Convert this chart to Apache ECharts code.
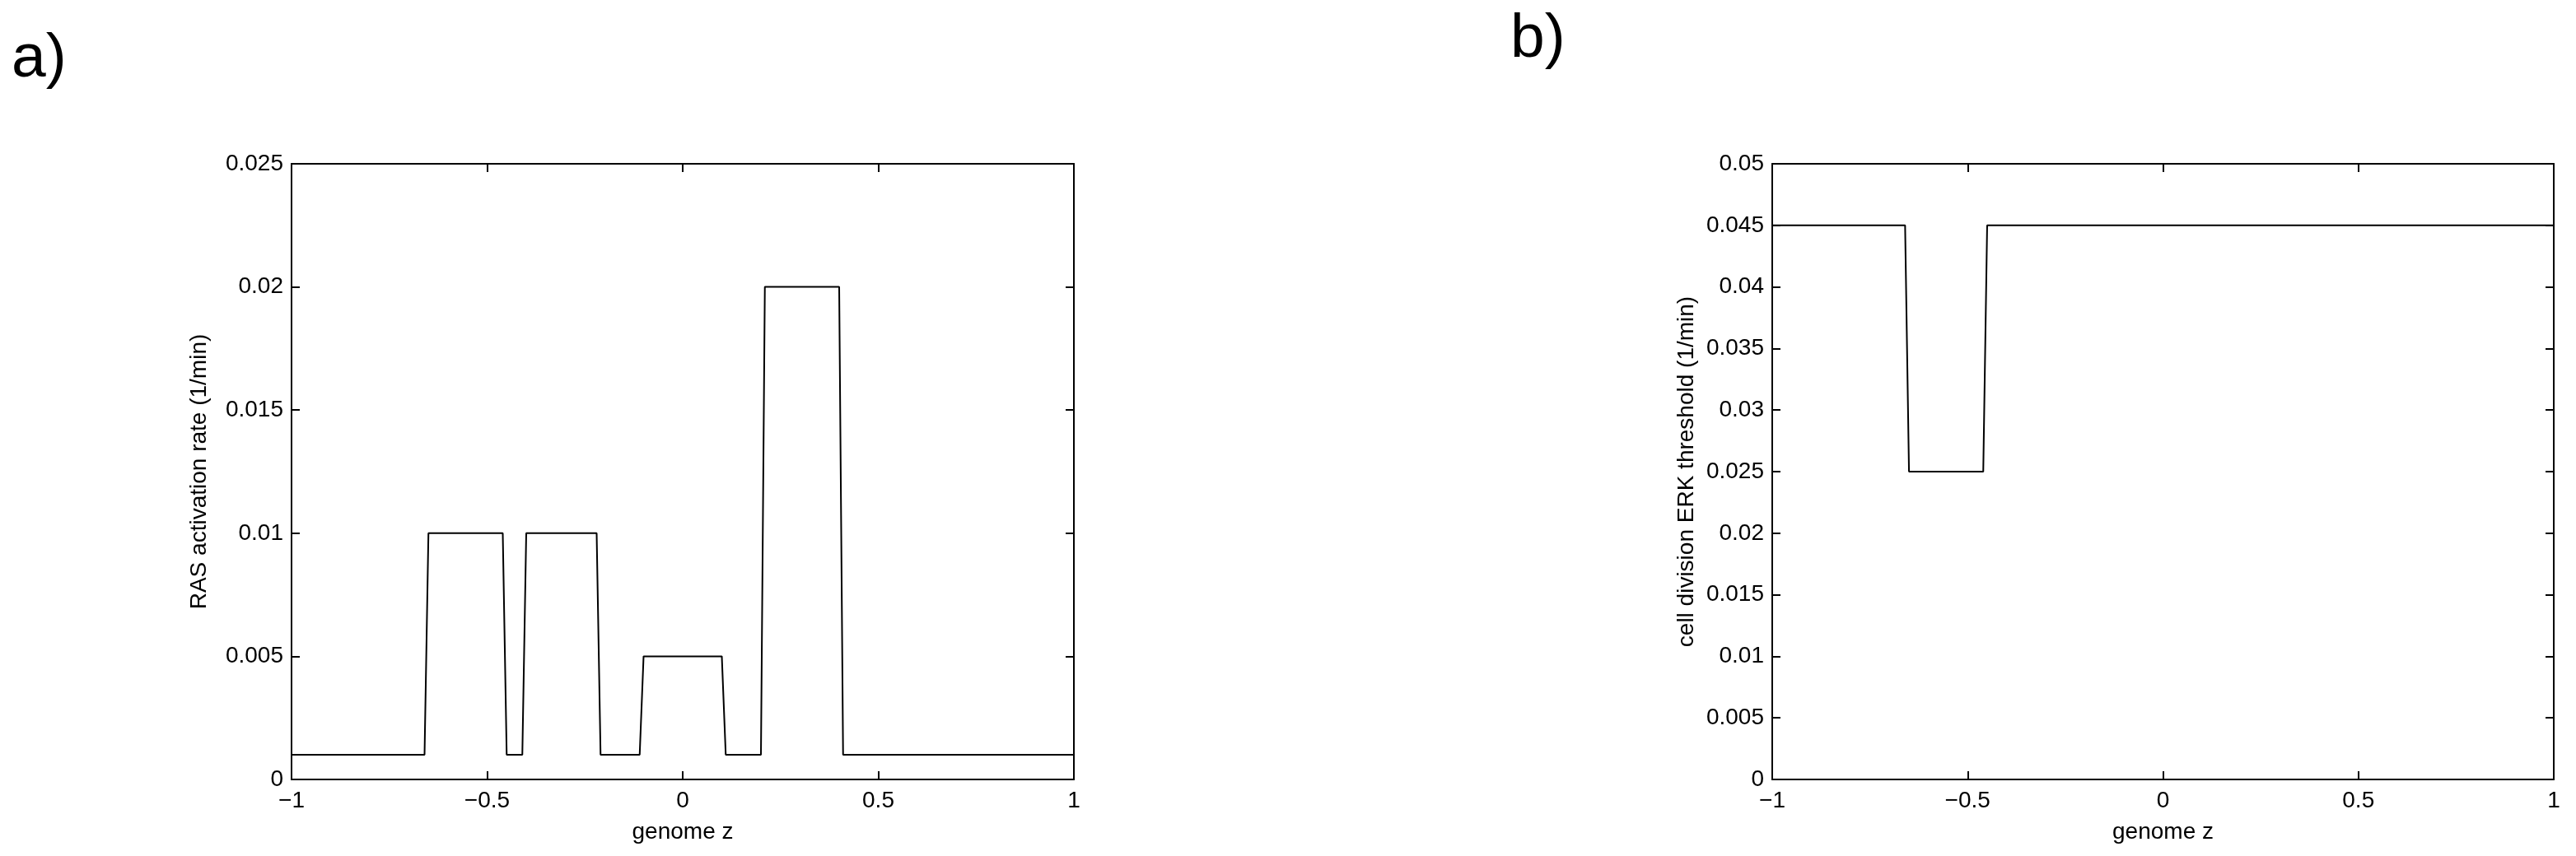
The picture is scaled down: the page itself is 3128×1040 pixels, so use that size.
<!DOCTYPE html>
<html lang="en">
<head>
    <meta charset="UTF-8">
    <title>genome z</title>
    <script src="https://cdn.jsdelivr.net/npm/echarts@6/dist/echarts.min.js"></script>
    <style>
        html, body { margin: 0; padding: 0; background: #fff; }
        #main { width: 3128px; height: 1040px; }
    </style>
</head>
<body>
<div id="main"></div>
<script type="text/javascript">
    // panel a: RAS activation rate along the genome
    var zA = [-1, -0.66, -0.65, -0.46, -0.45, -0.41, -0.40, -0.22, -0.21, -0.11, -0.10, 0.10, 0.11, 0.20, 0.21, 0.40, 0.41, 1];
    var rasRate = [0.001, 0.001, 0.01, 0.01, 0.001, 0.001, 0.01, 0.01, 0.001, 0.001, 0.005, 0.005, 0.001, 0.001, 0.02, 0.02, 0.001, 0.001];
    // panel b: cell division ERK threshold
    var zB = [-1, -0.66, -0.65, -0.46, -0.45, 1];
    var erkThreshold = [0.045, 0.045, 0.025, 0.025, 0.045, 0.045];

    var xTicks = [-1, -0.5, 0, 0.5, 1];

    var font = 'Liberation Sans, Arial, sans-serif';

    function pairs(xs, ys) {
        return xs.map(function (x, i) { return [x, ys[i]]; });
    }
    function minus(v) {
        return String(v).replace('-', '\u2212');
    }

    var tick = { show: true, inside: true, length: 10, lineStyle: { color: '#000', width: 2 } };
    var line = { show: true, onZero: false, lineStyle: { color: '#000', width: 2 } };
    var lbl = { color: '#000', fontSize: 28, fontFamily: font };

    function xAxisFor(grid, pos, withLabels) {
        return {
            type: 'value', gridIndex: grid, position: pos,
            min: xTicks[0], max: xTicks[xTicks.length - 1], interval: 0.5,
            axisLine: line, axisTick: tick, splitLine: { show: false },
            axisLabel: Object.assign({ show: withLabels, margin: 12, formatter: minus }, lbl),
            name: withLabels ? 'genome z' : '', nameLocation: 'middle', nameGap: 50,
            nameTextStyle: lbl
        };
    }
    function yAxisFor(grid, pos, max, name, gap, withLabels) {
        return {
            type: 'value', gridIndex: grid, position: pos,
            min: 0, max: max, interval: 0.005,
            axisLine: line, axisTick: tick, splitLine: { show: false },
            axisLabel: Object.assign({ show: withLabels, margin: 10 }, lbl),
            name: withLabels ? name : '', nameLocation: 'middle', nameGap: gap,
            nameTextStyle: lbl
        };
    }

    var chart = echarts.init(document.getElementById('main'));
    var option = {
        animation: false,
        backgroundColor: '#fff',
        title: [
            { text: 'a)', left: 14, top: 35, padding: 0, textStyle: { fontSize: 75, fontWeight: 'normal', color: '#000', fontFamily: font } },
            { text: 'b)', left: 1834, top: 11, padding: 0, textStyle: { fontSize: 75, fontWeight: 'normal', color: '#000', fontFamily: font } }
        ],
        grid: [
            { left: 354, top: 199, width: 950, height: 748 },
            { left: 2152, top: 199, width: 949, height: 748 }
        ],
        xAxis: [
            xAxisFor(0, 'bottom', true),
            xAxisFor(0, 'top', false),
            xAxisFor(1, 'bottom', true),
            xAxisFor(1, 'top', false)
        ],
        yAxis: [
            yAxisFor(0, 'left', 0.025, 'RAS activation rate (1/min)', 98, true),
            yAxisFor(0, 'right', 0.025, '', 0, false),
            yAxisFor(1, 'left', 0.05, 'cell division ERK threshold (1/min)', 90, true),
            yAxisFor(1, 'right', 0.05, '', 0, false)
        ],
        series: [
            {
                type: 'line', xAxisIndex: 0, yAxisIndex: 0,
                data: pairs(zA, rasRate), showSymbol: false,
                lineStyle: { color: '#000', width: 2 }
            },
            {
                type: 'line', xAxisIndex: 2, yAxisIndex: 2,
                data: pairs(zB, erkThreshold), showSymbol: false,
                lineStyle: { color: '#000', width: 2 }
            }
        ]
    };
    chart.setOption(option);
</script>
</body>
</html>
